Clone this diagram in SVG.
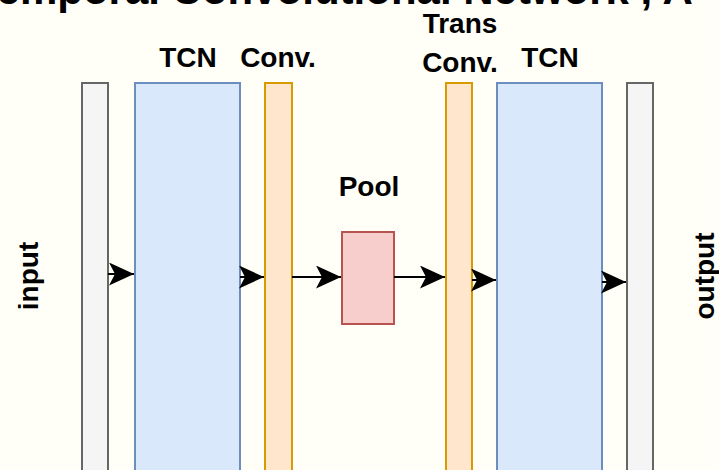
<svg xmlns="http://www.w3.org/2000/svg" width="719" height="470" viewBox="0 0 719 470">
  <style>
    .lbl { font-family: "Liberation Sans", Arial, Helvetica, sans-serif; font-weight: bold; font-size: 28px; fill: #000; }
    .title { font-family: "Liberation Sans", Arial, Helvetica, sans-serif; font-weight: bold; font-size: 42px; fill: #000; }
    .gray { fill: #f5f5f5; stroke: #666666; stroke-width: 2; }
    .blue { fill: #dae8fc; stroke: #6c8ebf; stroke-width: 2; }
    .orange { fill: #ffe6cc; stroke: #d79b00; stroke-width: 2; }
    .red { fill: #f8cecc; stroke: #b85450; stroke-width: 2; }
    .edge { stroke: #000; stroke-width: 2; fill: none; marker-end: url(#arrow); }
  </style>
  <defs>
    <marker id="arrow" markerUnits="userSpaceOnUse" markerWidth="25" markerHeight="23" viewBox="0 0 25 23" refX="25" refY="11.5" orient="auto">
      <path d="M0,0 L25,11.5 L0,23 L6,11.5 Z" fill="#000"/>
    </marker>
  </defs>
  <rect x="0" y="0" width="719" height="470" fill="#fffff7"/>
  <text class="title" x="-26" y="4">Temporal Convolutional Network , A</text>

  <g id="input">
    <rect class="gray" x="82" y="83" width="26" height="400"/>
    <text class="lbl" transform="translate(38,276) rotate(-90)" text-anchor="middle">input</text>
  </g>
  <g id="tcn1">
    <rect class="blue" x="135" y="83" width="105" height="400"/>
    <text class="lbl" x="188" y="67" text-anchor="middle">TCN</text>
  </g>
  <g id="conv">
    <rect class="orange" x="265" y="83" width="27" height="400"/>
    <text class="lbl" x="278" y="67" text-anchor="middle">Conv.</text>
  </g>
  <g id="pool">
    <rect class="red" x="342" y="232" width="52" height="92"/>
    <text class="lbl" x="369" y="196" text-anchor="middle">Pool</text>
  </g>
  <g id="transconv">
    <rect class="orange" x="446" y="83" width="26" height="400"/>
    <text class="lbl" x="460" y="33" text-anchor="middle">Trans</text>
    <text class="lbl" x="460" y="72" text-anchor="middle">Conv.</text>
  </g>
  <g id="tcn2">
    <rect class="blue" x="497" y="83" width="105" height="400"/>
    <text class="lbl" x="550" y="67" text-anchor="middle">TCN</text>
  </g>
  <g id="output">
    <rect class="gray" x="627" y="83" width="26" height="400"/>
    <text class="lbl" transform="translate(714,276) rotate(-90)" text-anchor="middle">output</text>
  </g>

  <g id="connectors">
    <line class="edge" x1="108" y1="274" x2="134" y2="274"/>
    <line class="edge" x1="240" y1="277" x2="264" y2="277"/>
    <line class="edge" x1="292" y1="277" x2="341" y2="277"/>
    <line class="edge" x1="394" y1="277" x2="445" y2="277"/>
    <line class="edge" x1="472" y1="280" x2="496" y2="280"/>
    <line class="edge" x1="602" y1="282" x2="626" y2="282"/>
  </g>
</svg>
